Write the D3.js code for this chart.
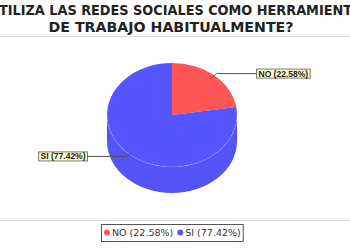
<!DOCTYPE html>
<html>
<head>
<meta charset="utf-8">
<script src="https://cdn.jsdelivr.net/npm/d3@7"></script>
<style>
  body { margin: 0; background: #fff; }
  svg { display: block; }
</style>
</head>
<body>
<svg id="chart"></svg>
<script>
// chart values
var titleLines = ['¿UTILIZA LAS REDES SOCIALES COMO HERRAMIENTA', 'DE TRABAJO HABITUALMENTE?'];
var titleWidths = [380, 245];
var categories = ['NO', 'SI'];
var percents = [22.58, 77.42];
var colors = ['#ff5555', '#5555ff'];

var W = 350, H = 250,
    cx = 172, cy = 115,
    rx = 65, ry = 52,
    depth = 26;

var svg = d3.select('#chart').attr('width', W).attr('height', H);

svg.append('rect').attr('width', W).attr('height', H).attr('fill', '#fff');

// title
svg.selectAll('.title').data(titleLines).enter()
    .append('text').attr('class', 'title')
    .attr('x', 171)
    .attr('y', function(d, i) { return 15 + i * 17; })
    .attr('text-anchor', 'middle')
    .attr('textLength', function(d, i) { return titleWidths[i]; })
    .attr('lengthAdjust', 'spacingAndGlyphs')
    .style('font-family', 'DejaVu Sans, sans-serif')
    .style('font-weight', 'bold')
    .style('font-size', '14px')
    .attr('fill', '#222')
    .text(function(d) { return d; });

svg.append('line').attr('x1', 0).attr('x2', W).attr('y1', 36.5).attr('y2', 36.5)
    .attr('stroke', '#d8d8d8').attr('stroke-width', 1);
svg.append('line').attr('x1', 0).attr('x2', W).attr('y1', 220.5).attr('y2', 220.5)
    .attr('stroke', '#d8d8d8').attr('stroke-width', 1);

var data = categories.map(function(c, i) {
    return {name: c, value: percents[i], col: colors[i]};
});

var pie = d3.pie().sort(null).value(function(d) { return d.value; });
var arcs = pie(data);

// angle measured clockwise from 12 o'clock
var pt = function(a, f, dy) {
    f = f || 1; dy = dy || 0;
    return [cx + rx * f * Math.sin(a), cy - ry * f * Math.cos(a) + dy];
};

var sidePath = function(a0, a1) {
    var s = Math.max(a0, Math.PI / 2), e = Math.min(a1, Math.PI * 1.5);
    if (e <= s) return null;
    var p0 = pt(s), p1 = pt(e), q1 = pt(e, 1, depth), q0 = pt(s, 1, depth);
    return 'M' + p0 + ' A' + rx + ',' + ry + ' 0 0 1 ' + p1 +
        ' L' + q1 + ' A' + rx + ',' + ry + ' 0 0 0 ' + q0 + ' Z';
};

var topPath = function(a0, a1) {
    var p0 = pt(a0), p1 = pt(a1), large = (a1 - a0) > Math.PI ? 1 : 0;
    return 'M' + cx + ',' + cy + ' L' + p0 + ' A' + rx + ',' + ry + ' 0 ' + large + ' 1 ' + p1 + ' Z';
};

var g = svg.append('g');

// sides first
arcs.forEach(function(a) {
    var d = sidePath(a.startAngle, a.endAngle);
    if (d) g.append('path').attr('d', d).attr('fill', d3.color(a.data.col).darker(0.08));
});

// top faces
g.selectAll('.top').data(arcs).enter().append('path').attr('class', 'top')
    .attr('d', function(d) { return topPath(d.startAngle, d.endAngle); })
    .attr('fill', function(d) { return d.data.col; });

// faint rim along the front
g.append('path')
    .attr('d', 'M' + pt(Math.PI / 2) + ' A' + rx + ',' + ry + ' 0 0 1 ' + pt(Math.PI * 1.5))
    .attr('fill', 'none').attr('stroke', 'rgba(255,255,255,0.18)').attr('stroke-width', 1);

// labels with links
var labels = svg.append('g');
arcs.forEach(function(a) {
    var mid = (a.startAngle + a.endAngle) / 2,
        right = Math.sin(mid) > 0,
        p0 = pt(mid, 0.9), p1 = pt(mid, 1.05),
        bx = right ? 256 : 87,
        txt = a.data.name + ' (' + a.data.value.toFixed(2) + '%)';

    labels.append('path')
        .attr('d', 'M' + p0 + ' L' + p1 + ' L' + bx + ',' + p1[1])
        .attr('fill', 'none').attr('stroke', '#555').attr('stroke-width', 1);

    var t = labels.append('text')
        .attr('y', p1[1] + 3)
        .style('font-family', 'Liberation Sans, sans-serif')
        .style('font-size', '8.5px')
        .style('font-weight', 'bold')
        .attr('fill', '#222')
        .text(txt);
    var tw = t.node().getComputedTextLength(), bw = tw + 4,
        x0 = right ? bx : bx - bw;
    labels.insert('rect', 'text')
        .attr('x', x0 + 0.5).attr('y', p1[1] - 4.5)
        .attr('width', bw).attr('height', 9)
        .attr('fill', '#ffffcc').attr('stroke', '#777').attr('stroke-width', 1);
    t.attr('x', x0 + 2.5);
});

// legend
var legend = svg.append('g');
var lx = 101, ly = 224;
var items = legend.selectAll('.item').data(data).enter().append('g').attr('class', 'item');
var cursor = lx + 6;
items.each(function(d) {
    var it = d3.select(this);
    it.append('circle').attr('cx', cursor).attr('cy', ly + 8.5).attr('r', 3).attr('fill', d.col);
    var t = it.append('text').attr('x', cursor + 5).attr('y', ly + 12)
        .style('font-family', 'DejaVu Sans, sans-serif')
        .style('font-size', '9.5px')
        .attr('fill', '#333')
        .text(d.name + ' (' + d.value.toFixed(2) + '%)');
    cursor += 5 + t.node().getComputedTextLength() + 7;
});
legend.insert('rect', '.item')
    .attr('x', lx + 0.5).attr('y', ly + 0.5)
    .attr('width', cursor - lx - 5).attr('height', 17)
    .attr('fill', '#fff').attr('stroke', '#555').attr('stroke-width', 1);
</script>
</body>
</html>
